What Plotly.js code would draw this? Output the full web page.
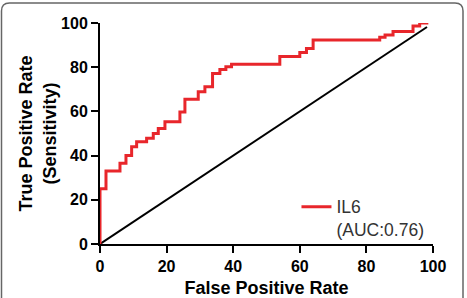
<!DOCTYPE html>
<html>
<head>
<meta charset="utf-8">
<script src="https://cdn.plot.ly/plotly-3.0.1.min.js"></script>
<style>
html,body{margin:0;padding:0;background:#fff;}
#chart{width:467px;height:298px;}
</style>
</head>
<body>
<div id="chart"></div>
<script>
// ROC curve of IL6 (step vertices)
const fpr = [0, 0, 1.8, 6, 7.8, 9.5, 11, 14, 16, 17.5, 19.5, 24, 25.5, 29.5, 31.5, 33.8, 36, 37.8, 39.5, 54, 60, 62, 64, 84, 85.6, 88, 94, 96, 98.6];
const tpr = [0, 25, 33, 36.5, 40, 44, 46.3, 47.8, 50, 52.3, 55.3, 59.7, 65.5, 68.9, 71.2, 77.2, 79, 80.2, 81.3, 84.8, 86.6, 88.5, 92.3, 93.5, 94.6, 96.1, 98.6, 100, 100];
// reference (chance) line
const refX = [0, 98.2];
const refY = [0, 98.2];
const tickVals = [0, 20, 40, 60, 80, 100];
const seriesName = "IL6<br>(AUC:0.76)";

const fontFam = "Liberation Sans, Arial, Helvetica, sans-serif";
const tickFont = {family: fontFam, size: 16, color: "#000", weight: "bold"};
const titleFont = {family: fontFam, size: 18, color: "#000", weight: "bold"};

const traces = [
  {
    x: refX, y: refY, mode: "lines", type: "scatter",
    line: {color: "#000", width: 2}, showlegend: false, hoverinfo: "skip"
  },
  {
    x: fpr, y: tpr, mode: "lines", type: "scatter", name: seriesName,
    line: {color: "#e8262b", width: 3, shape: "hv"}
  }
];

const axisBase = {
  range: [0, 100], tickvals: tickVals, showline: true, linecolor: "#000", linewidth: 2,
  ticks: "outside", ticklen: 7, tickwidth: 2, tickcolor: "#000", showgrid: false,
  zeroline: false, tickfont: tickFont, layer: "below traces", fixedrange: true
};

const L = -0.2958, R = 1.0901, T = 1.0905, B = -0.344, rx = 0.024, ry = 0.0362;
const borderPath = `M ${L},${B} L ${L},${T - ry} Q ${L},${T} ${L + rx},${T} L ${R - rx},${T} Q ${R},${T} ${R},${T - ry} L ${R},${B}`;

const layout = {
  width: 467, height: 298,
  margin: {l: 100, r: 34, t: 23, b: 54, pad: 0},
  paper_bgcolor: "#fff", plot_bgcolor: "#fff",
  xaxis: Object.assign({}, axisBase, {
    title: {text: "False Positive Rate", font: titleFont, standoff: 7}
  }),
  yaxis: Object.assign({}, axisBase, {
    title: {text: "True Positive Rate<br>(Sensitivity)", font: titleFont, standoff: 0}
  }),
  showlegend: true,
  legend: {
    x: 0.59, y: 0.25, xanchor: "left", yanchor: "top",
    bgcolor: "rgba(0,0,0,0)", borderwidth: 0, valign: "top",
    font: {family: fontFam, size: 17.5, color: "#333"}
  },
  shapes: [{
    type: "path", xref: "paper", yref: "paper", path: borderPath,
    line: {color: "#666", width: 1.5}, fillcolor: "rgba(0,0,0,0)"
  }]
};

Plotly.newPlot("chart", traces, layout, {displayModeBar: false, staticPlot: true});
</script>
</body>
</html>
